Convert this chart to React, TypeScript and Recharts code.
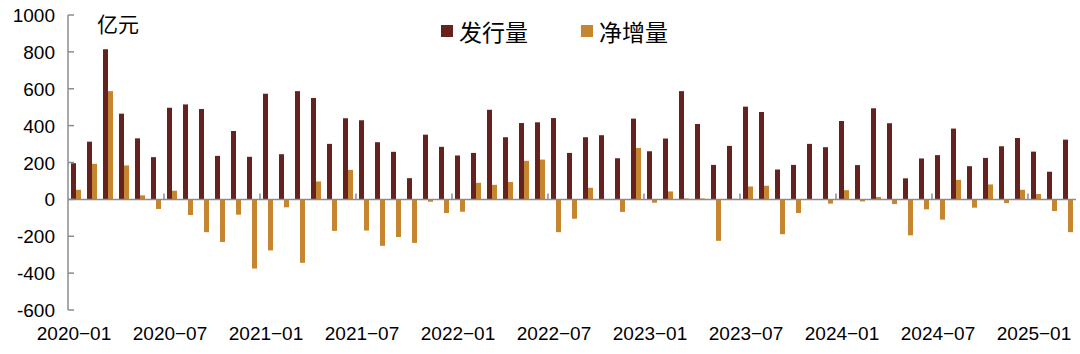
import {
  BarChart,
  Bar,
  XAxis,
  YAxis,
  Legend,
  ReferenceLine,
} from "recharts";

// 月份
const months = [
  "2020-01", "2020-02", "2020-03", "2020-04", "2020-05", "2020-06",
  "2020-07", "2020-08", "2020-09", "2020-10", "2020-11", "2020-12",
  "2021-01", "2021-02", "2021-03", "2021-04", "2021-05", "2021-06",
  "2021-07", "2021-08", "2021-09", "2021-10", "2021-11", "2021-12",
  "2022-01", "2022-02", "2022-03", "2022-04", "2022-05", "2022-06",
  "2022-07", "2022-08", "2022-09", "2022-10", "2022-11", "2022-12",
  "2023-01", "2023-02", "2023-03", "2023-04", "2023-05", "2023-06",
  "2023-07", "2023-08", "2023-09", "2023-10", "2023-11", "2023-12",
  "2024-01", "2024-02", "2024-03", "2024-04", "2024-05", "2024-06",
  "2024-07", "2024-08", "2024-09", "2024-10", "2024-11", "2024-12",
  "2025-01", "2025-02", "2025-03",
];

// 发行量（亿元）
const issuance = [
  196, 313, 814, 465, 331, 229, 497, 515, 490, 236, 371, 231,
  573, 245, 587, 550, 301, 440, 429, 310, 258, 115, 351, 285,
  238, 252, 486, 337, 414, 418, 441, 252, 337, 348, 223, 438,
  261, 330, 587, 409, 187, 290, 503, 474, 162, 187, 301, 283,
  425, 186, 494, 413, 114, 222, 240, 384, 180, 225, 288, 333,
  259, 150, 324,
];

// 净增量（亿元）
const netIncrease = [
  52, 193, 587, 184, 22, -52, 47, -85, -178, -231, -83, -375,
  -277, -43, -344, 97, -171, 160, -169, -252, -204, -236, -13, -74,
  -67, 90, 79, 94, 209, 216, -178, -105, 63, 0, -68, 279,
  -18, 43, 5, 5, -225, 3, 70, 74, -189, -74, 0, -23,
  50, -11, 13, -25, -195, -54, -110, 106, -45, 81, -20, 52,
  29, -63, -178,
];

const xTicks = ["2020-01", "2020-07", "2021-01", "2021-07", "2022-01", "2022-07", "2023-01", "2023-07", "2024-01", "2024-07", "2025-01"];
const yTicks = [-600, -400, -200, 0, 200, 400, 600, 800, 1000];

const DARK = "#65221f";
const ORANGE = "#c5862f";
const AXIS = "#8c8c8c";
const FONT = '"Liberation Sans", Arial, "Noto Sans CJK SC", sans-serif';

const data = months.map((m, i) => ({
  month: m,
  issuance: issuance[i],
  net: netIncrease[i],
}));

const YTick = (props: any) => {
  const { x, y, payload } = props;
  return (
    <g>
      <line x1={x} x2={x + 6} y1={y} y2={y} stroke={AXIS} strokeWidth={1.5} />
      <text x={x - 13} y={y} dy={7} textAnchor="end" fontSize={19} fill="#000" fontFamily={FONT}>
        {payload.value}
      </text>
    </g>
  );
};

const XTick = (props: any) => {
  const { x, y, payload } = props;
  return (
    <text x={x - 2} y={y} dy={22} textAnchor="middle" fontSize={19} fill="#000" fontFamily={FONT}>
      {String(payload.value).replace("-", "−")}
    </text>
  );
};

const LegendContent = () => (
  <div style={{ display: "flex", alignItems: "center", fontFamily: FONT, fontSize: 23, color: "#000" }}>
    <span style={{ width: 12, height: 12, background: DARK, display: "inline-block", marginRight: 6 }} />
    <span style={{ marginRight: 53 }}>发行量</span>
    <span style={{ width: 12, height: 12, background: ORANGE, display: "inline-block", marginRight: 6 }} />
    <span>净增量</span>
  </div>
);

export default function App() {
  return (
    <div style={{ position: "relative", width: 1080, height: 354 }}>
      <style>{`body{margin:0}`}</style>
      <BarChart
        width={1080}
        height={354}
        data={data}
        margin={{ top: 15, right: 4, bottom: 14, left: 0 }}
        barGap={0}
        barSize={5}
      >
        <XAxis
          dataKey="month"
          ticks={xTicks}
          interval={0}
          axisLine={false}
          tickLine={false}
          height={30}
          tick={<XTick />}
        />
        <YAxis
          domain={[-600, 1000]}
          ticks={yTicks}
          interval={0}
          width={68}
          axisLine={{ stroke: AXIS, strokeWidth: 1.5 }}
          tickLine={false}
          tickSize={0}
          tickMargin={0}
          tick={<YTick />}
        />
        <Legend
          layout="horizontal"
          verticalAlign="middle"
          content={<LegendContent />}
          wrapperStyle={{ position: "absolute", top: 14, left: 441, width: "auto" }}
        />
        <Bar dataKey="issuance" name="发行量" fill={DARK} isAnimationActive={false} />
        <Bar dataKey="net" name="净增量" fill={ORANGE} isAnimationActive={false} />
        <ReferenceLine y={0} stroke={AXIS} strokeWidth={1.5} />
        {xTicks.slice(1).map((m) => (
          <ReferenceLine
            key={m}
            position="start"
            segment={[{ x: m, y: 0 }, { x: m, y: 32 }]}
            stroke={AXIS}
            strokeWidth={1.5}
          />
        ))}
      </BarChart>
      <div
        style={{
          position: "absolute",
          left: 97,
          top: 8,
          fontFamily: FONT,
          fontSize: 21,
          color: "#000",
        }}
      >
        亿元
      </div>
    </div>
  );
}
